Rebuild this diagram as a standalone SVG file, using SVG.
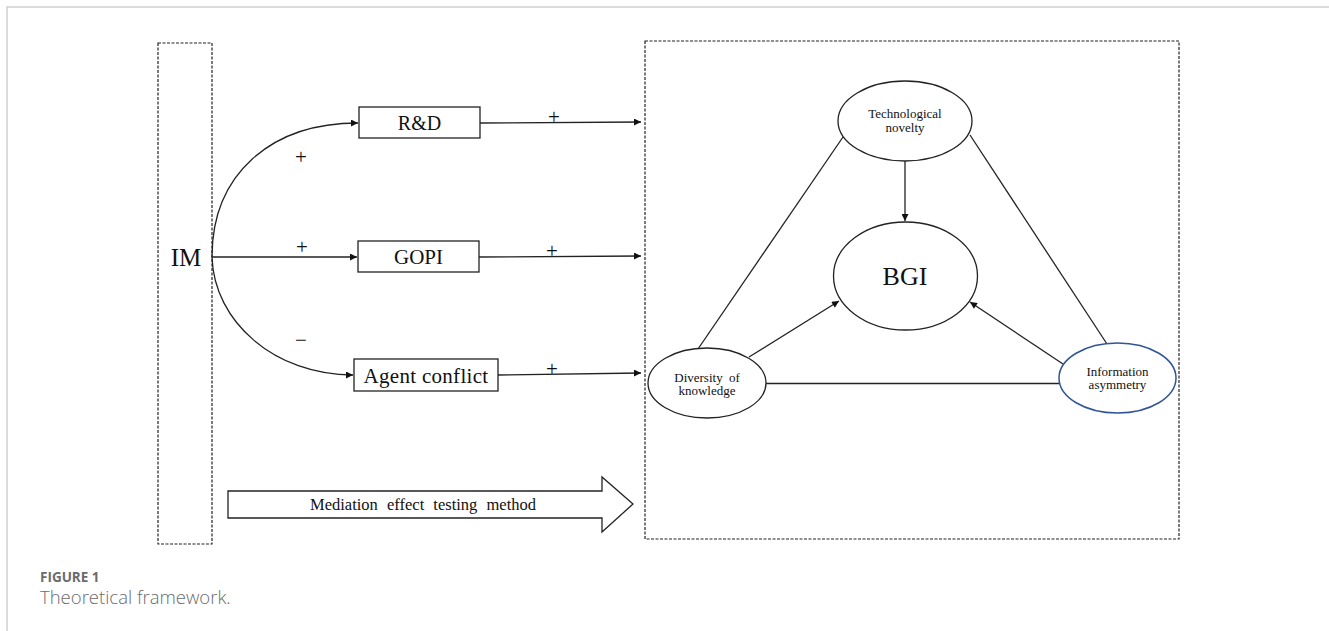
<svg xmlns="http://www.w3.org/2000/svg" width="1329" height="631" viewBox="0 0 1329 631">
<style>
.frame{fill:none;stroke:#d0d0d0;stroke-width:1.5}
.dash{fill:none;stroke:#222;stroke-width:1.2;stroke-dasharray:3 1.5}
.box{fill:#fff;stroke:#222;stroke-width:1.3}
.ell{fill:#fff;stroke:#222;stroke-width:1.3}
.blue{fill:#fff;stroke:#2f5597;stroke-width:1.5}
.ln{fill:none;stroke:#222;stroke-width:1.3}
.t{font-family:"Liberation Serif","Times New Roman",serif;fill:#111;text-anchor:middle}
.cap{font-family:"Open Sans","Noto Sans",sans-serif;fill:#6b6b6b}
</style>
<defs>
<marker id="ah" viewBox="0 0 10 10" refX="10" refY="5" markerWidth="8" markerHeight="7" markerUnits="userSpaceOnUse" orient="auto">
<path d="M0,0 L10,5 L0,10 z" fill="#111"/>
</marker>
</defs>
<path class="frame" d="M1329,7 H7 V631"/>
<g id="im">
<rect class="dash" x="158" y="43" width="54" height="501"/>
<text class="t" x="186" y="266" font-size="25">IM</text>
</g>
<g id="outcome-frame">
<rect class="dash" x="645" y="41" width="534" height="498"/>
</g>
<g id="connectors">
<path class="ln" d="M212,257 C212,175 270,123 358,123" marker-end="url(#ah)"/>
<path class="ln" d="M212,257 H357" marker-end="url(#ah)"/>
<path class="ln" d="M212,257 C214,322 275,375 353,375" marker-end="url(#ah)"/>
<path class="ln" d="M480,123 L641,122" marker-end="url(#ah)"/>
<path class="ln" d="M479,257 L641,256" marker-end="url(#ah)"/>
<path class="ln" d="M498,375 L641,373" marker-end="url(#ah)"/>
<path class="ln" d="M905,161 V221" marker-end="url(#ah)"/>
<path class="ln" d="M843,137 L698,349"/>
<path class="ln" d="M970,135 L1107,344"/>
<path class="ln" d="M749,357 L839,301" marker-end="url(#ah)"/>
<path class="ln" d="M1063,364 L970,302" marker-end="url(#ah)"/>
<path class="ln" d="M766,383.5 H1059"/>
</g>
<g id="signs" class="t" font-size="21">
<text x="301" y="164">+</text>
<text x="302" y="254">+</text>
<text x="301" y="347">−</text>
<text x="554" y="124">+</text>
<text x="552" y="258">+</text>
<text x="552" y="376">+</text>
</g>
<g id="rd">
<rect class="box" x="359" y="107" width="121" height="31"/>
<text class="t" x="419.5" y="130" font-size="20">R&amp;D</text>
</g>
<g id="gopi">
<rect class="box" x="358" y="241" width="121" height="31"/>
<text class="t" x="418.5" y="264" font-size="21">GOPI</text>
</g>
<g id="agent">
<rect class="box" x="354" y="359" width="144" height="32"/>
<text class="t" x="426" y="383" font-size="21" letter-spacing="0.3">Agent conflict</text>
</g>
<g id="tn">
<ellipse class="ell" cx="905" cy="121" rx="67" ry="40"/>
<text class="t" x="905" y="118" font-size="13">Technological</text>
<text class="t" x="905" y="132" font-size="13">novelty</text>
</g>
<g id="bgi">
<ellipse class="ell" cx="905.5" cy="276" rx="72" ry="54"/>
<text class="t" x="905" y="285" font-size="26">BGI</text>
</g>
<g id="dk">
<ellipse class="ell" cx="707" cy="383" rx="59" ry="35"/>
<text class="t" x="707" y="382" font-size="13" word-spacing="3">Diversity of</text>
<text class="t" x="707" y="395" font-size="13">knowledge</text>
</g>
<g id="ia">
<ellipse class="blue" cx="1117.5" cy="378" rx="58.5" ry="35"/>
<text class="t" x="1117.5" y="376" font-size="13">Information</text>
<text class="t" x="1117.5" y="389" font-size="13">asymmetry</text>
</g>
<g id="method">
<polygon class="box" points="228,491 602,491 602,477 633,504 602,532 602,518 228,518"/>
<text class="t" x="423" y="510" font-size="16.5" word-spacing="5">Mediation effect testing method</text>
</g>
<g id="caption">
<text class="cap" x="40" y="582" font-size="13.5" font-weight="700">FIGURE 1</text>
<text class="cap" x="40" y="604" font-size="18.5" font-weight="300">Theoretical framework.</text>
</g>
</svg>
